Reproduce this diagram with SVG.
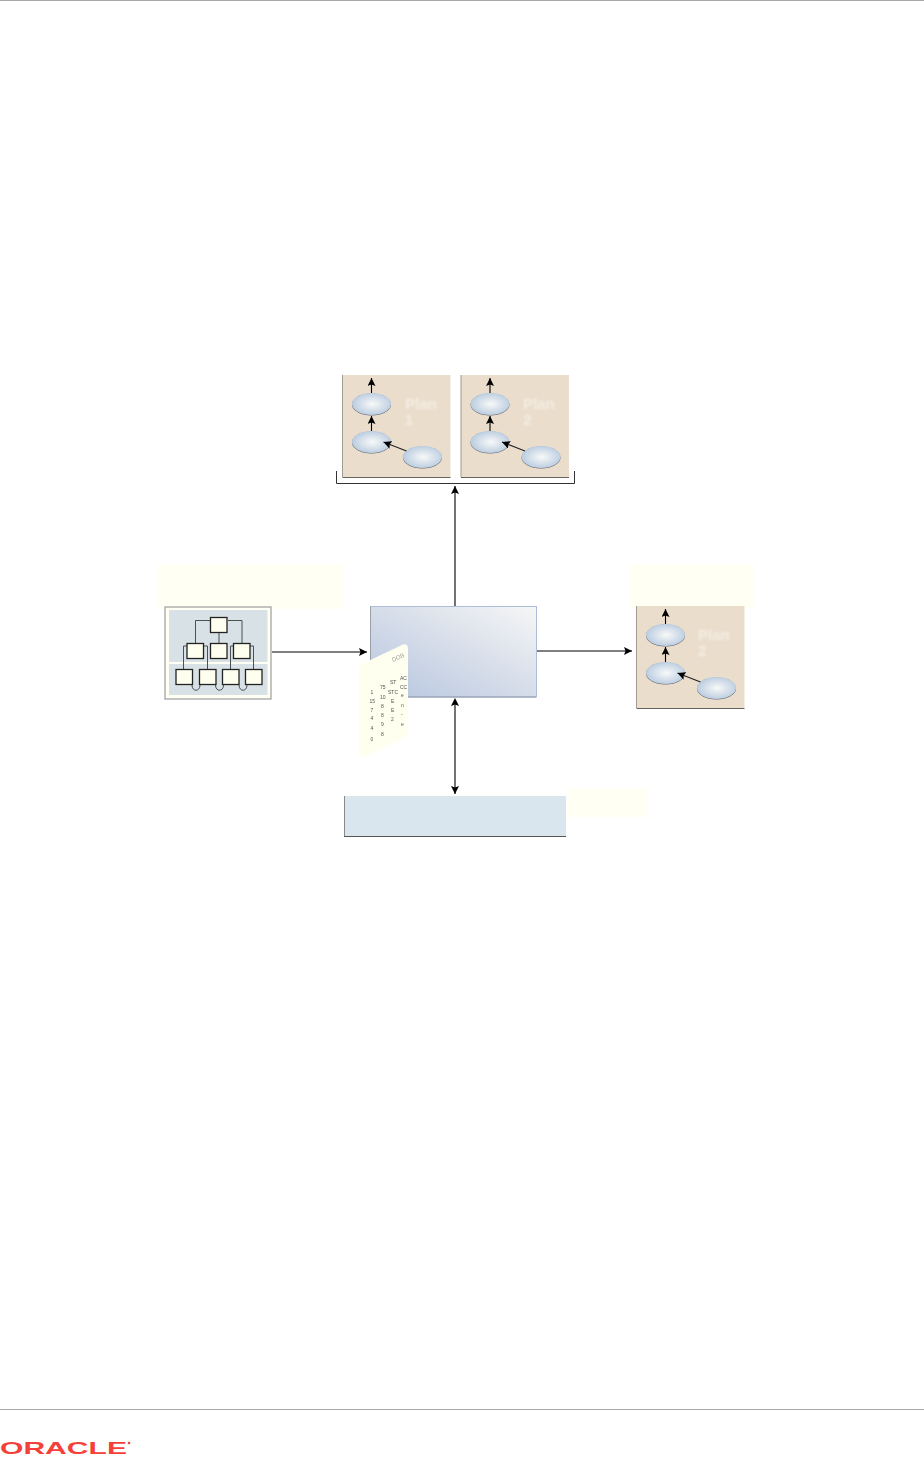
<svg xmlns="http://www.w3.org/2000/svg" width="924" height="1458" viewBox="0 0 924 1458">
<style>
.panel{fill:#eaddcc}
.edgel{fill:none;stroke:#a09a92;stroke-width:1}
.edgeb{fill:none;stroke:#66625e;stroke-width:1}
.con{fill:none;stroke:#000;stroke-width:1.1}
.con2{fill:none;stroke:#222;stroke-width:1.1}
.ell{fill:url(#eg)}
.shade{fill:#5a5f68}
.plan{font:bold 15px "Liberation Sans",Arial,sans-serif;fill:#f4ede3;filter:url(#soft)}
.note{fill:#fffff4}
.box{fill:#fffff0;stroke:#222;stroke-width:1.3}
.wire{fill:none;stroke:#3b3f40;stroke-width:.9}
.t{font:5px "Liberation Sans",Arial,sans-serif;fill:#555;filter:url(#soft2)}
</style>
<defs>
<filter id="soft" x="-20%" y="-20%" width="140%" height="140%"><feGaussianBlur stdDeviation="0.9"/></filter>
<filter id="soft2" x="-10%" y="-10%" width="120%" height="120%"><feGaussianBlur stdDeviation="0.25"/></filter>
<radialGradient id="eg" cx=".52" cy=".5" r=".55"><stop offset="0" stop-color="#f8f9f8"/><stop offset="1" stop-color="#b7cadf"/></radialGradient>
<linearGradient id="mg" x1="0" y1="1" x2="1" y2="0"><stop offset="0" stop-color="#b5c4de"/><stop offset="1" stop-color="#f6f6f5"/></linearGradient>
<marker id="a" markerWidth="9" markerHeight="8" refX="8" refY="4" orient="auto" markerUnits="userSpaceOnUse"><path d="M0 0L8 4L0 8L1.5 4Z" fill="#000"/></marker>
<g id="plan">
<rect class="panel" x="0" y="0" width="108" height="102"/>
<path class="edgel" d="M0 0V102"/><path class="edgeb" d="M0 102.500H108"/>
<line class="con" x1="29" y1="18" x2="29" y2="3" marker-end="url(#a)"/>
<line class="con" x1="29" y1="56" x2="29" y2="41" marker-end="url(#a)"/>
<ellipse class="shade" cx="29" cy="29.500" rx="19.500" ry="11"/><ellipse class="ell" cx="29" cy="29" rx="19.500" ry="11"/>
<ellipse class="shade" cx="29" cy="67.500" rx="19.500" ry="11"/><ellipse class="ell" cx="29" cy="67" rx="19.500" ry="11"/>
<ellipse class="shade" cx="80" cy="82.500" rx="19.500" ry="11"/><ellipse class="ell" cx="80" cy="82" rx="19.500" ry="11"/>
<line class="con2" x1="64" y1="76" x2="41" y2="67" marker-end="url(#a)"/>
</g>
</defs>

<rect width="924" height="1458" fill="#fff"/>
<line x1="0" y1="0.500" x2="924" y2="0.500" stroke="#a8a8a8"/>
<line x1="0" y1="1409.500" x2="924" y2="1409.500" stroke="#a8a8a8"/>

<g id="connectors">
<path d="M336.500 471V483.500H574.500V471" fill="none" stroke="#333" stroke-width="1"/>
<line class="con" x1="455" y1="606" x2="455" y2="486" marker-end="url(#a)"/>
<line class="con" x1="272" y1="652" x2="367" y2="652" marker-end="url(#a)"/>
<line class="con" x1="537" y1="651" x2="632" y2="651" marker-end="url(#a)"/>
<line class="con" x1="455" y1="702" x2="455" y2="794" marker-end="url(#a)"/>
</g>

<g id="plan-1"><use href="#plan" x="342.500" y="375"/><text class="plan" x="405" y="409">Plan</text><text class="plan" x="405" y="425">1</text></g>
<g id="plan-2"><use href="#plan" x="461" y="375"/><text class="plan" x="523" y="409">Plan</text><text class="plan" x="523" y="425">2</text></g>

<g id="note-left"><rect class="note" x="158" y="564" width="185" height="45"/></g>
<g id="note-right"><rect class="note" x="630" y="564" width="124" height="44"/></g>
<g id="note-bottom"><rect class="note" x="568" y="788" width="80" height="29"/></g>

<g id="plan-right"><use href="#plan" x="636.500" y="606"/><text class="plan" x="698" y="640">Plan</text><text class="plan" x="698" y="656">2</text></g>

<g id="tree">
<rect x="165" y="607" width="106" height="92" fill="#fffff4" stroke="#a3a5a3" stroke-width="1.300"/>
<rect x="169" y="610" width="98.500" height="52" fill="#d8e1e6"/>
<rect x="169" y="664" width="98.500" height="31" fill="#d8e1e6"/>
<path class="wire" d="M210.500 620.500H195.500V643M228 620.500H242V643M219 633V643"/>
<path class="wire" d="M187 646H183.500V669M204 646H207.500V669M233 646H230.500V669M250 646H253.500V669"/>
<path class="wire" d="M192 685C192 692 200 692 200 685M215.500 685C215.500 692 223.500 692 223.500 685M239 685C239 692 247 692 247 685"/>
<rect class="box" x="210.500" y="617.500" width="16.500" height="15"/>
<rect class="box" x="187" y="643.500" width="16.500" height="15"/>
<rect class="box" x="210.500" y="643.500" width="16.500" height="15"/>
<rect class="box" x="233.500" y="643.500" width="16.500" height="15"/>
<rect class="box" x="176" y="669.500" width="16.500" height="15"/>
<rect class="box" x="199.500" y="669.500" width="16.500" height="15"/>
<rect class="box" x="222.500" y="669.500" width="16.500" height="15"/>
<rect class="box" x="245.500" y="669.500" width="16.500" height="15"/>
</g>

<g id="main">
<rect x="370.500" y="606.500" width="166" height="90.500" fill="url(#mg)" stroke="#adbfd8" stroke-width="1"/>
<path d="M370.500 606.500V697" stroke="#9a9fa8" fill="none"/>
<path d="M408 697H536" stroke="#8f97a6" fill="none"/>
<path d="M450 697L455 703L460 697Z" fill="none"/>
<path d="M455 698L451 706L455 704.500L459 706Z" fill="#000"/>
</g>

<g id="card">
<path d="M363 663.500L402 645C406 643 408 645 408 649L408 733C408 735 407 737 405 738L364 757C360 759 358.500 757 358.500 753L358.500 671C358.500 667 360 665 363 663.500Z" fill="#fffff0"/>
<g class="t">
<text x="393" y="662" transform="rotate(-25 393 662)" font-size="6" style="font-size:6px;fill:#999">DOB</text>
<text x="370.500" y="694">1</text><text x="369.500" y="703">15</text><text x="370.500" y="712">7</text><text x="370.500" y="720">4</text><text x="370.500" y="730">4</text><text x="370.500" y="741">0</text>
<text x="380" y="689">75</text><text x="380" y="699">10</text><text x="381" y="708">8</text><text x="381" y="717">8</text><text x="381" y="726">9</text><text x="381" y="736">8</text>
<text x="390" y="684">ST</text><text x="388" y="694">STC</text><text x="391" y="703">E</text><text x="391" y="712">E</text><text x="391" y="721">2</text>
<text x="400" y="680">AC</text><text x="400" y="689">CC</text><text x="401" y="697">e</text><text x="401" y="707">n</text><text x="401" y="716">-</text><text x="401" y="726">e</text>
</g>
</g>

<g id="store">
<rect x="344" y="796" width="222" height="40" fill="#d9e6ee"/>
<path d="M344.500 796V836" fill="none" stroke="#8a8a8a" stroke-width="1"/>
<path d="M344 836.500H566" stroke="#555" stroke-width="1"/>
</g>

<g id="logo">
<text x="0" y="1454" font-family="'Liberation Sans',Arial,sans-serif" font-size="17" font-weight="bold" fill="#f5403a" textLength="127" lengthAdjust="spacingAndGlyphs">ORACLE</text>
<circle cx="129" cy="1443" r="1.300" fill="#f5403a"/>
</g>
</svg>
